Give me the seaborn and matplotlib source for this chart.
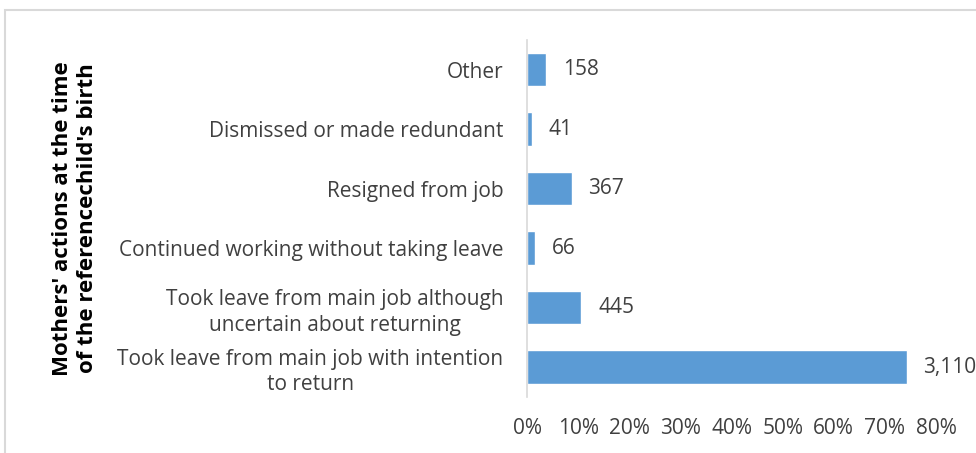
import matplotlib
matplotlib.use("Agg")
import matplotlib.pyplot as plt
import matplotlib.patches as mpatches
from matplotlib.ticker import PercentFormatter
import seaborn as sns
import pandas as pd

categories = [
    "Other",
    "Dismissed or made redundant",
    "Resigned from job",
    "Continued working without taking leave",
    "Took leave from main job although\nuncertain about returning",
    "Took leave from main job with intention\nto return",
]
counts = [158, 41, 367, 66, 445, 3110]
x_ticks = [0, 0.1, 0.2, 0.3, 0.4, 0.5, 0.6, 0.7, 0.8]

total = sum(counts)
df = pd.DataFrame({
    "action": categories,
    "count": counts,
    "share": [c / total for c in counts],
})

sns.set_theme(style="white")
plt.rcParams["font.family"] = ["Open Sans", "DejaVu Sans"]

text_grey = "#404040"
bar_blue = "#5b9bd5"

fig = plt.figure(figsize=(9.76, 4.53), dpi=100)
ax = fig.add_axes([0.540, 0.124, 0.419, 0.788])

sns.barplot(data=df, y="action", x="share", orient="h", color=bar_blue,
            width=0.56, saturation=1, ax=ax)

ax.set_xlim(0, 0.8)
ax.set_xticks(x_ticks)
ax.xaxis.set_major_formatter(PercentFormatter(1.0, decimals=0))
ax.tick_params(axis="x", length=0, labelsize=15, colors=text_grey, pad=15)
ax.tick_params(axis="y", length=0, labelsize=15, colors=text_grey, pad=17)
for lbl in ax.get_yticklabels():
    lbl.set_multialignment("center")
    lbl.set_linespacing(1.3)

for side in ["top", "right", "bottom"]:
    ax.spines[side].set_visible(False)
ax.spines["left"].set_color("#d9d9d9")
ax.spines["left"].set_linewidth(1.2)

ax.set_xlabel("")
ax.set_ylabel("Mothers' actions at the time\nof the referencechild's birth",
              fontsize=16, fontweight="bold", color="black", linespacing=1.25)
ax.yaxis.set_label_coords(-1.05, 0.50)

for container in ax.containers:
    ax.bar_label(container, labels=[f"{c:,}" for c in counts], padding=12,
                 fontsize=15, color=text_grey, clip_on=False)

# outer chart frame
frame = mpatches.Rectangle((5 / 976, -0.1), 1.2, 1 - 10 / 453 + 0.1,
                           transform=fig.transFigure, fill=False,
                           edgecolor="#d9d9d9", linewidth=1.5, clip_on=False)
fig.patches.append(frame)

fig.savefig("out.png", dpi=100)
